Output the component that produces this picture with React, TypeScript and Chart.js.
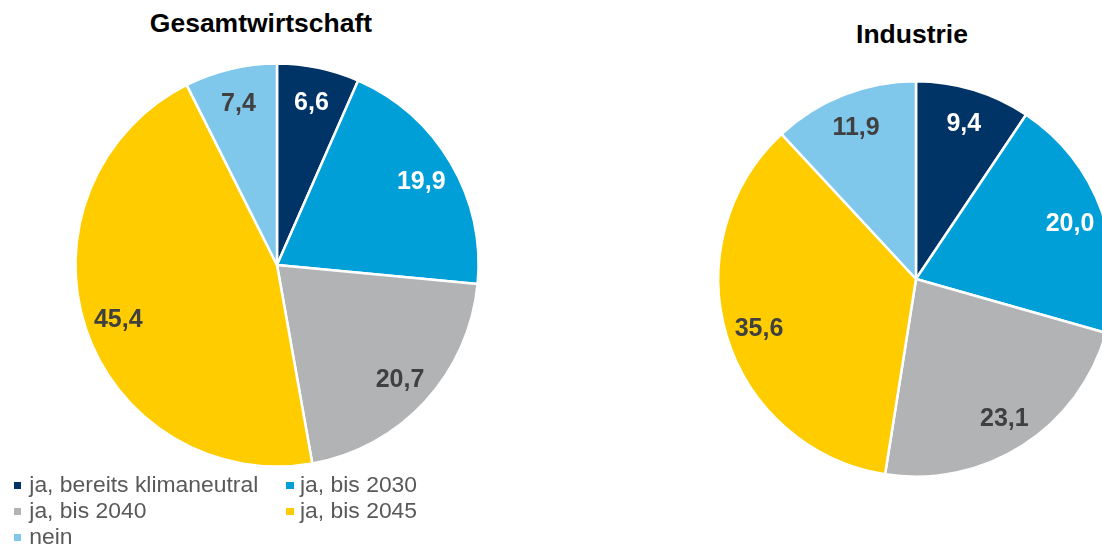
import React, { useEffect, useRef } from "react";
import { Chart, registerables } from "chart.js";

Chart.register(...registerables);

const categories = [
  "ja, bereits klimaneutral",
  "ja, bis 2030",
  "ja, bis 2040",
  "ja, bis 2045",
  "nein",
];
const gesamtValues = [6.6, 19.9, 20.7, 45.4, 7.4];
const industrieValues = [9.4, 20.0, 23.1, 35.6, 11.9];
const titles = ["Gesamtwirtschaft", "Industrie"];

const sliceColors = ["#003366", "#009FD8", "#B2B3B5", "#FFCC00", "#80C8EB"];
const labelColors = ["#FFFFFF", "#FFFFFF", "#404040", "#404040", "#404040"];
const FONT = "'Liberation Sans', Arial, sans-serif";

const labelPlugin = {
  id: "sliceLabels",
  afterDatasetsDraw(chart: any) {
    const ctx = chart.ctx;
    const meta = chart.getDatasetMeta(0);
    const data = chart.data.datasets[0].data as number[];
    ctx.save();
    ctx.font = `bold 25px ${FONT}`;
    ctx.textAlign = "center";
    ctx.textBaseline = "middle";
    meta.data.forEach((arc: any, i: number) => {
      const p = arc.getProps(["startAngle", "endAngle", "outerRadius", "x", "y"], true);
      const mid = (p.startAngle + p.endAngle) / 2;
      const r = p.outerRadius * 0.83;
      const x = p.x + Math.cos(mid) * r;
      const y = p.y + Math.sin(mid) * r;
      ctx.fillStyle = labelColors[i];
      ctx.fillText(data[i].toFixed(1).replace(".", ","), x, y + 2);
    });
    ctx.restore();
  },
};

function PieChart(props: { values: number[]; radius: number; left: number; top: number; size: number }) {
  const ref = useRef<HTMLCanvasElement | null>(null);
  useEffect(() => {
    if (!ref.current) return;
    const chart = new Chart(ref.current, {
      type: "pie",
      data: {
        labels: categories,
        datasets: [
          {
            data: props.values,
            backgroundColor: sliceColors,
            borderColor: "#FFFFFF",
            borderWidth: 2.5,
          },
        ],
      },
      options: {
        responsive: false,
        animation: false,
        devicePixelRatio: 1,
        radius: props.radius,
        layout: { padding: 0 },
        plugins: {
          legend: { display: false },
          tooltip: { enabled: false },
          title: { display: false },
        },
      } as any,
      plugins: [labelPlugin],
    });
    return () => chart.destroy();
  }, []);
  return (
    <canvas
      ref={ref}
      width={props.size}
      height={props.size}
      style={{ position: "absolute", left: props.left, top: props.top, width: props.size, height: props.size }}
    />
  );
}

export default function App() {
  const legendRowTop = [471.4, 497.3, 523.2];
  return (
    <div
      style={{
        position: "fixed",
        left: 0,
        top: 0,
        width: 1102,
        height: 546,
        overflow: "hidden",
        background: "#FFFFFF",
        fontFamily: FONT,
      }}
    >
      <PieChart values={gesamtValues} radius={201.5} left={67} top={55} size={420} />
      <PieChart values={industrieValues} radius={197.7} left={706} top={69} size={420} />

      <div
        style={{
          position: "absolute",
          left: 111,
          width: 300,
          top: 8,
          textAlign: "center",
          fontWeight: "bold",
          fontSize: 26.5,
          lineHeight: "30px",
          color: "#000000",
        }}
      >
        {titles[0]}
      </div>
      <div
        style={{
          position: "absolute",
          left: 762,
          width: 300,
          top: 19,
          textAlign: "center",
          fontWeight: "bold",
          fontSize: 26.5,
          lineHeight: "30px",
          color: "#000000",
        }}
      >
        {titles[1]}
      </div>

      {categories.map((c, i) => {
        const row = Math.floor(i / 2);
        const col = i % 2;
        const top = legendRowTop[row];
        const textLeft = col === 0 ? 29.3 : 300;
        const boxLeft = col === 0 ? 13.5 : 286;
        return (
          <React.Fragment key={c}>
            <div
              style={{
                position: "absolute",
                left: boxLeft,
                top: top + 10.5,
                width: 7.5,
                height: 7.5,
                background: sliceColors[i],
              }}
            />
            <div
              style={{
                position: "absolute",
                left: textLeft,
                top: top,
                fontSize: 22.9,
                lineHeight: "26px",
                color: "#595959",
                whiteSpace: "nowrap",
              }}
            >
              {c}
            </div>
          </React.Fragment>
        );
      })}
    </div>
  );
}
